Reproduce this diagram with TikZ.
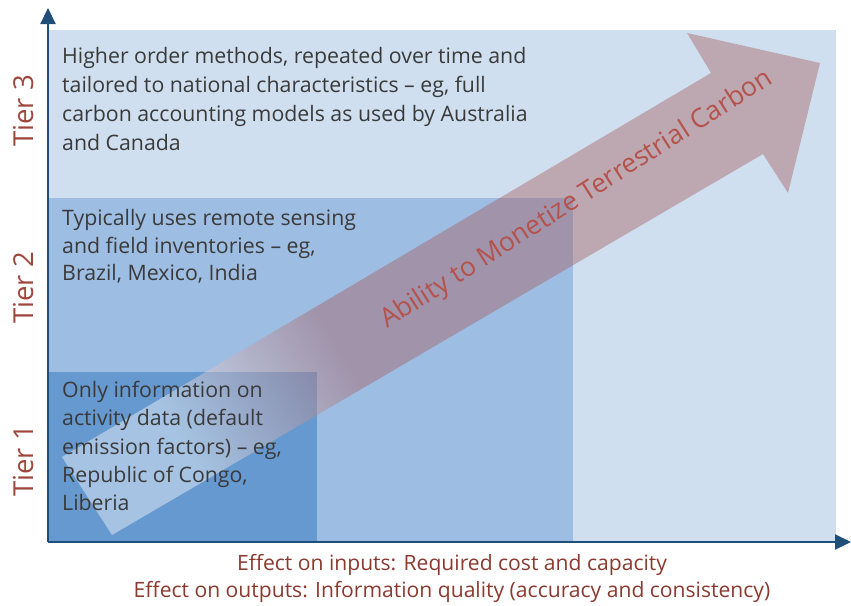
\documentclass[tikz,border=0pt]{standalone}
\usepackage{fontspec}
\setmainfont{Open Sans}
\usetikzlibrary{arrows.meta}

\definecolor{tierthree}{RGB}{207,223,239}
\definecolor{tiertwo}{RGB}{157,189,226}
\definecolor{tierone}{RGB}{102,153,207}
\definecolor{axisblue}{RGB}{31,78,121}
\definecolor{bodytext}{RGB}{58,58,58}
\definecolor{tierlabel}{RGB}{160,71,61}
\definecolor{axislabel}{RGB}{139,58,48}
\definecolor{arrowtext}{RGB}{181,82,76}
\definecolor{arrowfill}{RGB}{165,90,93}

% white tail fading into the arrow colour
\pgfdeclarehorizontalshading{arrowfade}{100bp}{%
  color(0bp)=(white); color(27bp)=(white); color(41bp)=(arrowfill); color(100bp)=(arrowfill)}

\tikzset{
  band/.style={draw=none},
  axisline/.style={draw=axisblue, line width=2.2pt, -{Triangle[length=16pt,width=15pt]}},
  tiername/.style={rotate=90, text=tierlabel, font=\fontsize{27.5}{30}\selectfont, inner sep=0pt},
  blocktext/.style={anchor=north west, align=left, inner sep=0pt, text=bodytext,
    font=\fontsize{21.3}{28.6}\selectfont},
  effect/.style={text=axislabel, font=\fontsize{21.1}{27}\selectfont, inner sep=0pt},
}

\begin{document}
\begin{tikzpicture}[x=1pt,y=-1pt]
  \useasboundingbox (0,0) rectangle (851,605);
  \fill[white] (0,0) rectangle (851,605);

  % tier bands
  \fill[tierthree, band] (48,30) rectangle (835,542);
  \draw[black!15, line width=0.8pt] (835,30) -- (835,542);
  \fill[tiertwo, band] (48,198) rectangle (573,542);
  \fill[tierone, band] (48,372) rectangle (317,542);

  % large diagonal arrow
  \shade[shading=arrowfade, shading angle=30.6, fill opacity=0.42]
    (62,457) -- (711,73) -- (687,33) -- (820,63) -- (788,193) -- (763,154) -- (112,535) -- cycle;

  \node[rotate=32.5, text=arrowtext, font=\fontsize{26.5}{30}\selectfont, inner sep=0pt]
    (ability) at (577,200) {Ability to Monetize Terrestrial Carbon};

  % axes
  \coordinate (origin) at (48,542);
  \coordinate (ytip) at (48,8);
  \coordinate (xtip) at (851,542);
  \draw[axisline] (origin) -- (ytip);
  \draw[axisline] (origin) -- (xtip);

  % tier names
  \node[tiername] (t3) at (24,111) {Tier 3};
  \node[tiername] (t2) at (24,288) {Tier 2};
  \node[tiername] (t1) at (24,461) {Tier 1};

  % descriptions
  \node[blocktext, font=\fontsize{21.3}{29.2}\selectfont] (d3) at (62,47) {Higher order methods, repeated over time and\\
    tailored to national characteristics -- eg, full\\
    carbon accounting models as used by Australia\\
    and Canada};
  \node[blocktext, font=\fontsize{21.3}{27.7}\selectfont] (d2) at (62,209) {Typically uses remote sensing\\
    and field inventories -- eg,\\
    Brazil, Mexico, India};
  \node[blocktext, font=\fontsize{21.3}{28.3}\selectfont] (d1) at (62,381) {Only information on\\
    activity data (default\\
    emission factors) -- eg,\\
    Republic of Congo,\\
    Liberia};

  % axis captions
  \node[effect] (inputs) at (452,565) {Effect on inputs: Required cost and capacity};
  \node[effect] (outputs) at (452,592) {Effect on outputs: Information quality (accuracy and consistency)};
\end{tikzpicture}
\end{document}
